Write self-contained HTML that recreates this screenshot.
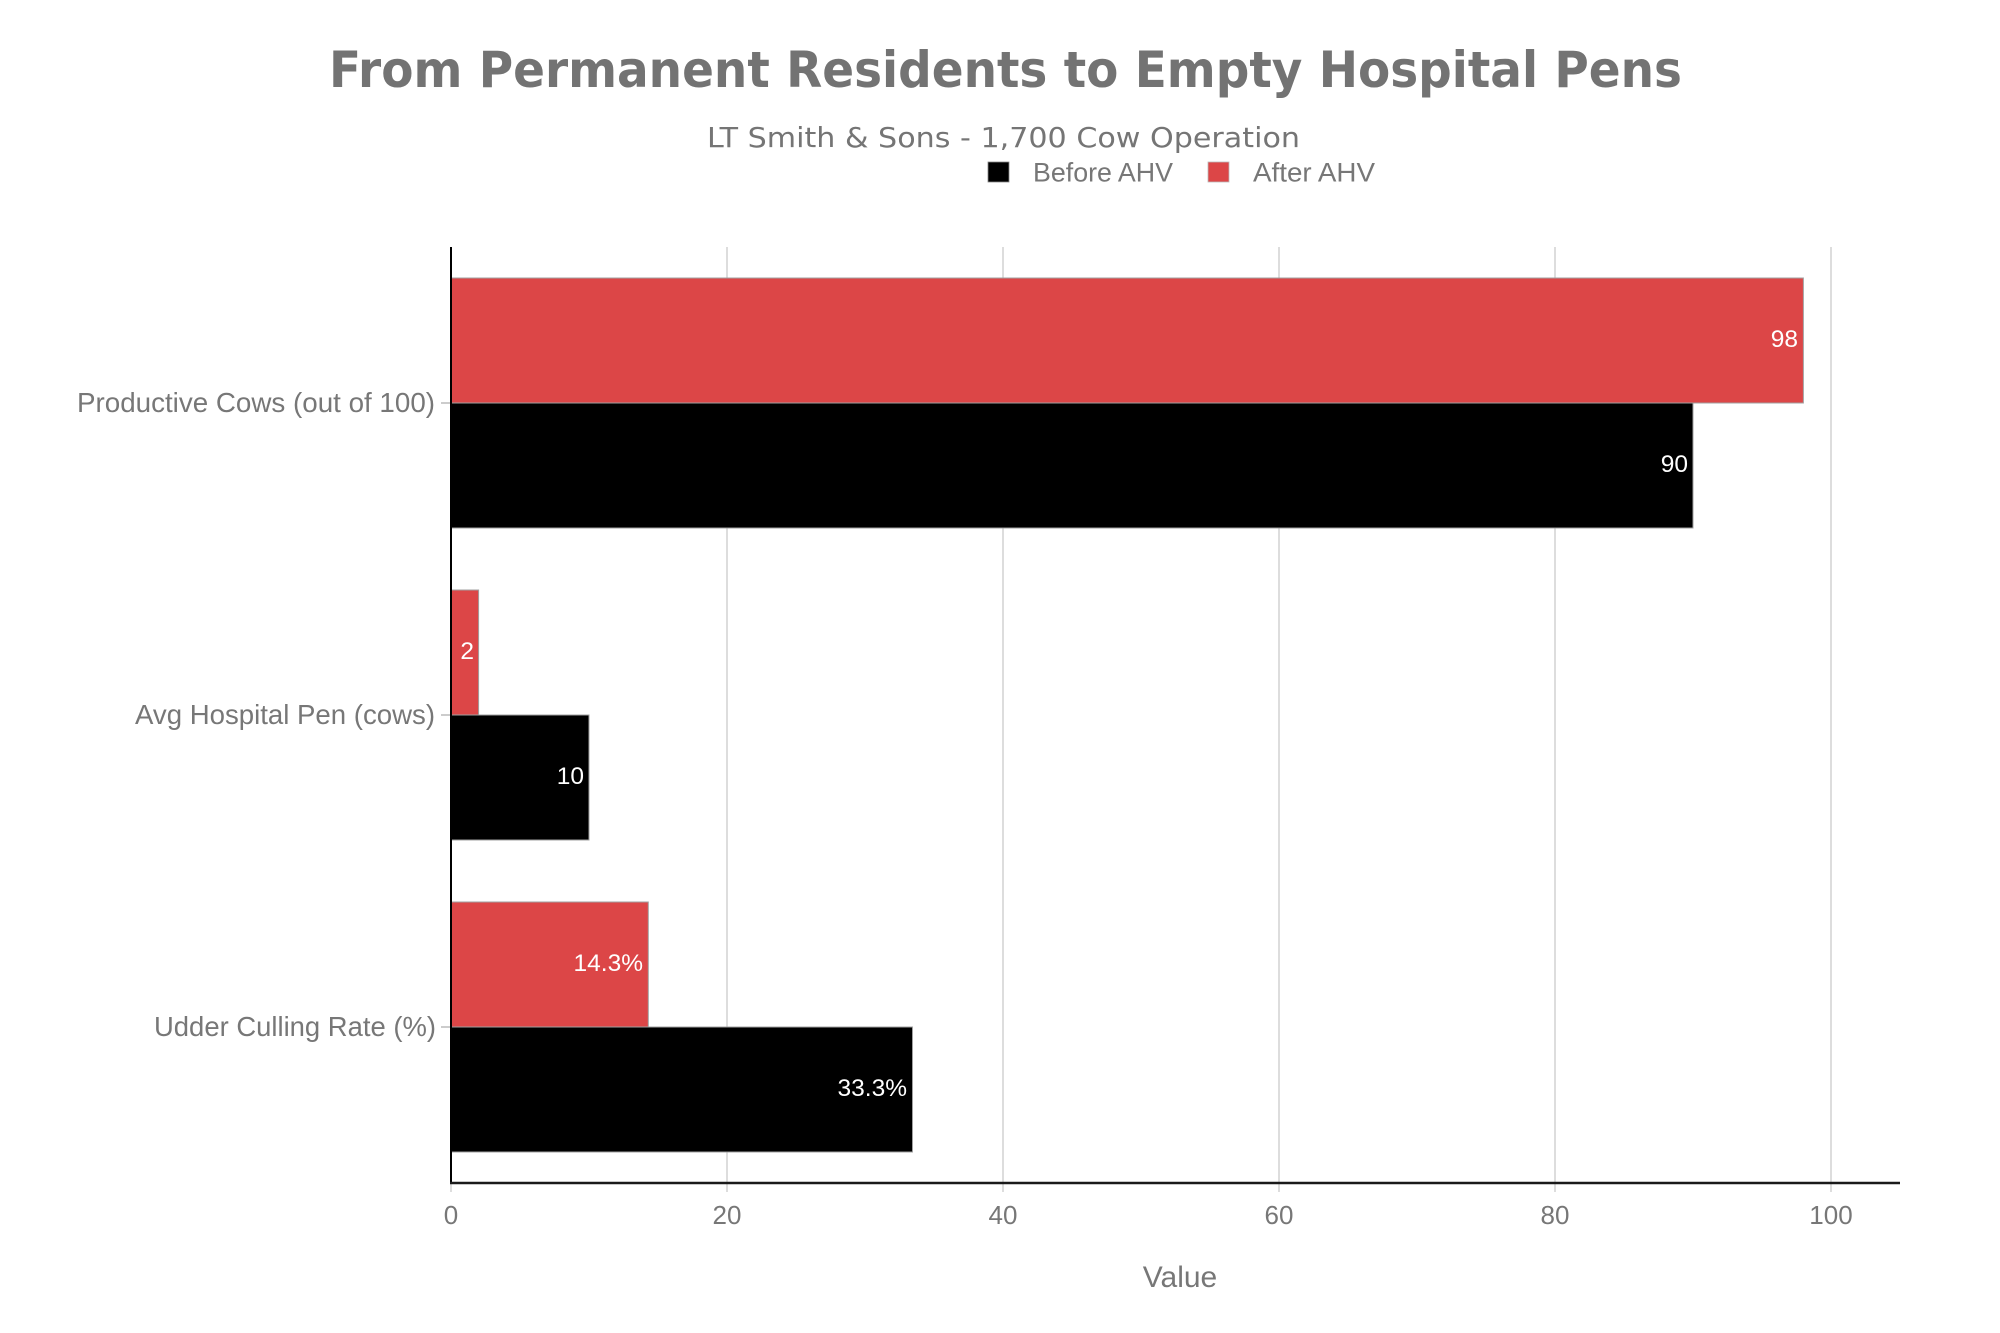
<!DOCTYPE html>
<html>
<head>
<meta charset="utf-8">
<style>
  html, body { margin: 0; padding: 0; background: #ffffff; }
  svg { display: block; }
</style>
</head>
<body>
<svg width="2000" height="1333" viewBox="0 0 2000 1333" xmlns="http://www.w3.org/2000/svg">
  <rect x="0" y="0" width="2000" height="1333" fill="#ffffff"/>

  <!-- Title -->
  <text x="1005.5" y="87" text-anchor="middle" font-family="'DejaVu Sans', 'Liberation Sans', sans-serif" font-weight="bold" font-size="50" fill="#737373" textLength="1353" lengthAdjust="spacingAndGlyphs">From Permanent Residents to Empty Hospital Pens</text>
  <!-- Subtitle -->
  <text x="1003.5" y="147" text-anchor="middle" font-family="'DejaVu Sans', 'Liberation Sans', sans-serif" font-size="28" fill="#757575" textLength="593" lengthAdjust="spacingAndGlyphs">LT Smith &amp; Sons - 1,700 Cow Operation</text>

  <!-- Legend -->
  <rect x="988" y="162" width="21" height="20" fill="#000000" stroke="#888" stroke-width="0.8"/>
  <text x="1033" y="181.5" font-family="'Liberation Sans', sans-serif" font-size="26.5" fill="#777777" textLength="140" lengthAdjust="spacingAndGlyphs">Before AHV</text>
  <rect x="1208" y="162" width="21" height="20" fill="#DC4647" stroke="#bbb" stroke-width="0.8"/>
  <text x="1253" y="181.5" font-family="'Liberation Sans', sans-serif" font-size="26.5" fill="#777777" textLength="122" lengthAdjust="spacingAndGlyphs">After AHV</text>

  <!-- Gridlines -->
  <g stroke="#dddddd" stroke-width="2">
    <line x1="451" y1="1183" x2="451" y2="1192"/>
    <line x1="727" y1="247" x2="727" y2="1192"/>
    <line x1="1003" y1="247" x2="1003" y2="1192"/>
    <line x1="1279" y1="247" x2="1279" y2="1192"/>
    <line x1="1555" y1="247" x2="1555" y2="1192"/>
    <line x1="1831" y1="247" x2="1831" y2="1192"/>
  </g>

  <!-- Y ticks -->
  <g stroke="#cccccc" stroke-width="2">
    <line x1="441" y1="403" x2="451" y2="403"/>
    <line x1="441" y1="715" x2="451" y2="715"/>
    <line x1="441" y1="1027" x2="451" y2="1027"/>
  </g>

  <!-- Bars -->
  <g stroke="#a0a0a0" stroke-width="1">
    <rect x="451" y="278" width="1352.4" height="125" fill="#DC4647"/>
    <rect x="451" y="403" width="1242" height="125" fill="#000000"/>
    <rect x="451" y="590" width="27.6" height="125" fill="#DC4647"/>
    <rect x="451" y="715" width="138" height="125" fill="#000000"/>
    <rect x="451" y="902" width="197.3" height="125" fill="#DC4647"/>
    <rect x="451" y="1027" width="461.5" height="125" fill="#000000"/>
  </g>

  <!-- Data labels -->
  <g font-family="'Liberation Sans', sans-serif" font-size="24.5" fill="#ffffff" text-anchor="end">
    <text x="1798" y="347">98</text>
    <text x="1688" y="472">90</text>
    <text x="474" y="659">2</text>
    <text x="584" y="784">10</text>
    <text x="643" y="971">14.3%</text>
    <text x="907" y="1096">33.3%</text>
  </g>

  <!-- Axes -->
  <line x1="451" y1="247" x2="451" y2="1184" stroke="#000000" stroke-width="2"/>
  <line x1="450" y1="1183" x2="1900" y2="1183" stroke="#1a1a1a" stroke-width="2.5"/>

  <!-- Y labels -->
  <g font-family="'Liberation Sans', sans-serif" font-size="28" fill="#777777" text-anchor="end">
    <text x="435" y="412" textLength="358" lengthAdjust="spacingAndGlyphs">Productive Cows (out of 100)</text>
    <text x="435" y="724" textLength="300" lengthAdjust="spacingAndGlyphs">Avg Hospital Pen (cows)</text>
    <text x="436" y="1036" textLength="282" lengthAdjust="spacingAndGlyphs">Udder Culling Rate (%)</text>
  </g>

  <!-- X tick labels -->
  <g font-family="'Liberation Sans', sans-serif" font-size="26" fill="#777777" text-anchor="middle">
    <text x="451" y="1224">0</text>
    <text x="727" y="1224">20</text>
    <text x="1003" y="1224">40</text>
    <text x="1279" y="1224">60</text>
    <text x="1555" y="1224">80</text>
    <text x="1831" y="1224">100</text>
  </g>

  <!-- X axis title -->
  <text x="1180" y="1287" text-anchor="middle" font-family="'Liberation Sans', sans-serif" font-size="30" fill="#777777">Value</text>
</svg>
</body>
</html>
